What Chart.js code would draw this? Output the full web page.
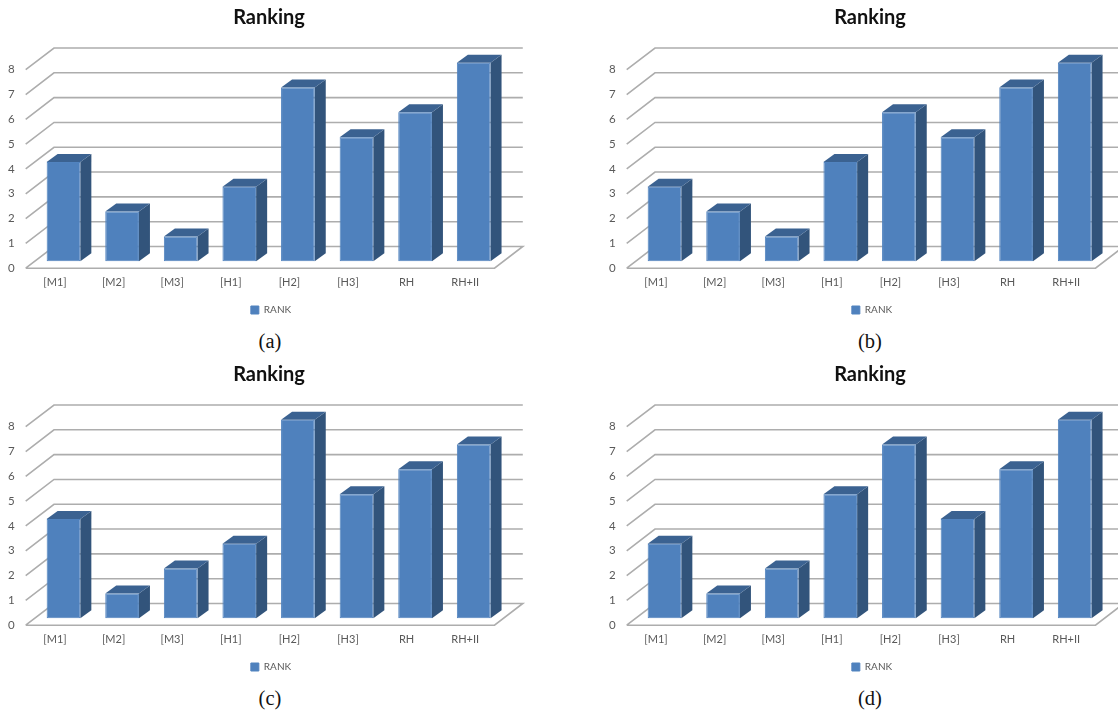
<!DOCTYPE html>
<html>
<head>
<meta charset="utf-8">
<script src="https://cdn.jsdelivr.net/npm/chart.js@4"></script>
<style>
html,body{margin:0;padding:0;background:#fff;width:1118px;height:711px;overflow:hidden}
canvas{position:absolute}
.cap{position:absolute;width:60px;text-align:center;font:20.5px "Liberation Serif",serif;color:#111;line-height:22px}
</style>
</head>
<body>
<script>
const categories = ['[M1]','[M2]','[M3]','[H1]','[H2]','[H3]','RH','RH+II'];
const ranksA = [4,2,1,3,7,5,6,8];
const ranksB = [3,2,1,4,6,5,7,8];
const ranksC = [4,1,2,3,8,5,6,7];
const ranksD = [3,1,2,5,7,4,6,8];
const seriesName = 'RANK';
const chartTitle = 'Ranking';
const captions = ['(a)','(b)','(c)','(d)'];

const W = 538, H = 325;
const depthWall = {dx:28.3, dy:-21.7};
const barShift = {dx:8.5, dy:-7};
const barDepth = {dx:11, dy:-8};

const wall3d = {
  id:'wall3d',
  afterLayout(chart){
    chart.legend.left += 2;
    chart.legend.right += 2;
  },
  beforeDatasetsDraw(chart){
    const {ctx, scales:{x,y}} = chart;
    const L = x.left, R = x.right;
    ctx.save();
    for (let v=0; v<=8; v++){
      const py = y.getPixelForValue(v);
      ctx.beginPath();
      ctx.moveTo(L,py);
      ctx.lineTo(L+depthWall.dx,py+depthWall.dy);
      ctx.lineTo(R+depthWall.dx,py+depthWall.dy);
      if (v===0){ ctx.lineTo(R,py); ctx.lineTo(L,py); }
      ctx.strokeStyle = '#adadad';
      ctx.lineWidth = 1.6;
      ctx.stroke();
    }
    ctx.restore();
    ctx.save();
    ctx.translate(barShift.dx, barShift.dy);
    const meta = chart.getDatasetMeta(0);
    meta.data.forEach(el=>{
      const p = el.getProps(['x','y','base','width'],true);
      const l = p.x-p.width/2, r = p.x+p.width/2;
      ctx.fillStyle = '#32547b';
      ctx.beginPath();
      ctx.moveTo(r,p.y);
      ctx.lineTo(r+barDepth.dx,p.y+barDepth.dy);
      ctx.lineTo(r+barDepth.dx,p.base+barDepth.dy);
      ctx.lineTo(r,p.base);
      ctx.closePath();
      ctx.fill();
      ctx.fillStyle = '#3b6291';
      ctx.beginPath();
      ctx.moveTo(l,p.y);
      ctx.lineTo(l+barDepth.dx,p.y+barDepth.dy);
      ctx.lineTo(r+barDepth.dx,p.y+barDepth.dy);
      ctx.lineTo(r,p.y);
      ctx.closePath();
      ctx.fill();
    });
  },
  afterDatasetsDraw(chart){
    chart.ctx.restore();
  }
};

function makeChart(values, left, top, caption, capLeft, capTop){
  const c = document.createElement('canvas');
  c.style.left = left+'px';
  c.style.top = top+'px';
  c.style.width = W+'px';
  c.style.height = H+'px';
  c.width = W; c.height = H;
  document.body.appendChild(c);
  new Chart(c,{
    type:'bar',
    data:{labels:categories,datasets:[{
      label:seriesName,data:values,backgroundColor:'#4f81bd',
      borderColor:'#5183bf',borderWidth:1,borderSkipped:false,
      barPercentage:0.575,categoryPercentage:1,clip:false,yAxisID:'y',xAxisID:'x'
    }]},
    options:{
      responsive:false,animation:false,devicePixelRatio:1,
      layout:{padding:0},
      plugins:{
        tooltip:{enabled:false},
        title:{display:true,text:chartTitle,color:'#111',
          font:{family:'Lato',size:20,weight:'bold',lineHeight:1.2},
          padding:{top:6,bottom:39.7}},
        legend:{display:true,position:'bottom',
          labels:{boxWidth:8,boxHeight:8,padding:15.8,color:'#595959',
            font:{family:'Lato',size:10}}}
      },
      scales:{
        x:{type:'category',grid:{display:false,drawTicks:false},border:{display:false},
          ticks:{color:'#595959',font:{family:'Lato',size:11},padding:8,maxRotation:0,autoSkip:false},
          afterFit(s){s.height=21;}},
        y:{type:'linear',min:0,max:8,grid:{display:false,drawTicks:false},border:{display:false},
          ticks:{stepSize:1,color:'#595959',font:{family:'Lato',size:11.5},padding:11},
          afterFit(s){s.width=25.7;}},
        pad:{type:'linear',position:'right',grid:{display:false,drawTicks:false},border:{display:false},
          ticks:{display:false},afterFit(s){s.width=43.5;}}
      }
    },
    plugins:[wall3d]
  });
  const d = document.createElement('div');
  d.className='cap';d.textContent=caption;
  d.style.left=capLeft+'px';d.style.top=capTop+'px';
  document.body.appendChild(d);
}
makeChart(ranksA,0,0,captions[0],240,330);
makeChart(ranksB,601,0,captions[1],840,330);
makeChart(ranksC,0,357,captions[2],240,687);
makeChart(ranksD,601,357,captions[3],840,687);
</script>
</body>
</html>
